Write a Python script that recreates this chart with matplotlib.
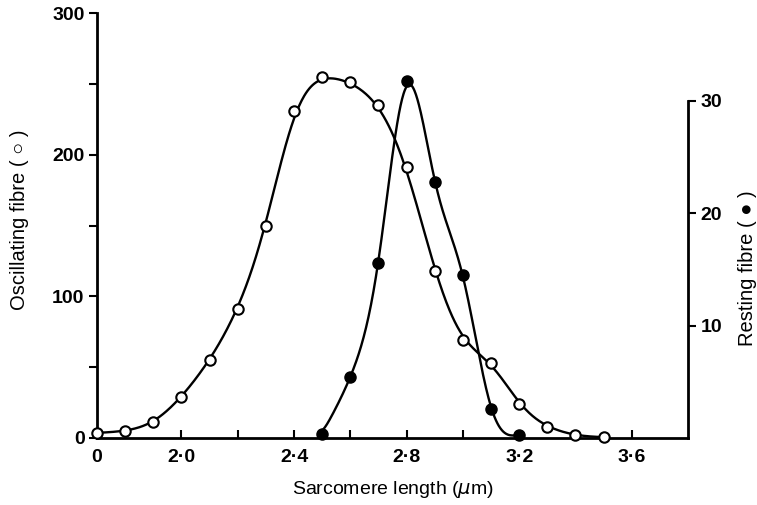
import numpy as np
import matplotlib
matplotlib.use("Agg")
import matplotlib.pyplot as plt

plt.rcParams['font.family'] = ['Liberation Sans', 'DejaVu Sans']

# sarcomere length (um) and counts
length_osc = [1.7, 1.8, 1.9, 2.0, 2.1, 2.2, 2.3, 2.4, 2.5, 2.6,
              2.7, 2.8, 2.9, 3.0, 3.1, 3.2, 3.3, 3.4, 3.5]
oscillating = [3.5, 5, 11, 29, 55, 91, 150, 231, 255, 251,
               235, 191, 118, 69, 53, 24, 8, 2, 0.5]

length_rest = [2.5, 2.6, 2.7, 2.8, 2.9, 3.0, 3.1, 3.2]
resting = [0.4, 5.4, 15.6, 31.7, 22.8, 14.5, 2.6, 0.3]

xtick_pos = [1.7, 2.0, 2.4, 2.8, 3.2, 3.6]
xtick_lab = ["0", "2·0", "2·4", "2·8", "3·2", "3·6"]


def spline(x, y, xs):
    # natural cubic spline, only used to draw the smooth line
    x = np.asarray(x, float)
    y = np.asarray(y, float)
    n = len(x)
    h = np.diff(x)
    A = np.zeros((n, n))
    b = np.zeros(n)
    A[0, 0] = 1
    A[-1, -1] = 1
    for i in range(1, n - 1):
        A[i, i - 1] = h[i - 1]
        A[i, i] = 2 * (h[i - 1] + h[i])
        A[i, i + 1] = h[i]
        b[i] = 3 * ((y[i + 1] - y[i]) / h[i] - (y[i] - y[i - 1]) / h[i - 1])
    c = np.linalg.solve(A, b)
    bb = (y[1:] - y[:-1]) / h - h * (2 * c[:-1] + c[1:]) / 3
    d = (c[1:] - c[:-1]) / (3 * h)
    i = np.clip(np.searchsorted(x, xs) - 1, 0, n - 2)
    dx = xs - x[i]
    return y[i] + bb[i] * dx + c[i] * dx**2 + d[i] * dx**3


def smooth(xs, ys, sigma):
    step = xs[1] - xs[0]
    s = sigma / step
    k = np.arange(-int(4 * s), int(4 * s) + 1)
    w = np.exp(-0.5 * (k / s) ** 2)
    w /= w.sum()
    pad = len(k) // 2
    yp = np.concatenate([np.full(pad, ys[0]), ys, np.full(pad, ys[-1])])
    return np.convolve(yp, w, mode='valid')


fig = plt.figure(figsize=(7.57, 5.05), dpi=100)
ax = fig.add_axes([97 / 757, 67 / 505, 591 / 757, 425 / 505])
ax2 = ax.twinx()

xs = np.linspace(length_osc[0], length_osc[-1], 600)
ys = smooth(xs, spline(length_osc, oscillating, xs), 0.04)
ax.plot(xs, np.clip(ys, 0, None), color='black', lw=1.7, zorder=2)
ax.plot(length_osc, oscillating, 'o', ms=7.5, mfc='white', mec='black', mew=1.5,
        clip_on=False, zorder=3)

xs2 = np.linspace(length_rest[0], length_rest[-1], 400)
ys2 = smooth(xs2, spline(length_rest, resting, xs2), 0.015)
ax2.plot(xs2, np.clip(ys2, 0, None), color='black', lw=1.7, zorder=2)
ax2.plot(length_rest, resting, 'o', ms=8, mfc='black', mec='black',
         clip_on=False, zorder=3)

ax.set_xlim(1.7, 3.8)
ax.set_ylim(0, 300)
ax2.set_ylim(0, 425 / 11.25)

ax.set_xticks(xtick_pos)
ax.set_xticklabels(xtick_lab)
ax.set_xticks([2.2, 2.6, 3.0, 3.4], minor=True)
ax.set_yticks([0, 100, 200, 300])
ax.set_yticks([50, 150, 250], minor=True)
ax2.set_yticks([10, 20, 30])

for a in (ax, ax2):
    a.spines['top'].set_visible(False)
    for s in a.spines.values():
        s.set_linewidth(2)
ax2.spines['left'].set_visible(False)
ax2.spines['bottom'].set_visible(False)
ax.spines['right'].set_visible(False)
ax2.spines['right'].set_bounds(0, 30)

ax.tick_params(axis='x', which='both', direction='in', length=6, width=1.5,
               labelsize=14, pad=8)
ax.tick_params(axis='y', which='both', direction='out', length=6, width=1.5,
               labelsize=14, pad=3)
ax2.tick_params(axis='y', direction='out', length=6, width=1.5, labelsize=14, pad=3)
for lab in ax.get_xticklabels() + ax.get_yticklabels() + ax2.get_yticklabels():
    lab.set_fontweight('bold')

ax.set_xlabel('Sarcomere length ($\\mu$m)', fontsize=14)
ax.xaxis.set_label_coords(0.5, -0.097)
ax.set_ylabel('Oscillating fibre ( ○ )', fontsize=14.5)
ax.yaxis.set_label_coords(-0.115, 0.513)
ax2.set_ylabel('Resting fibre ( ● )', fontsize=14.5)
ax2.yaxis.set_label_coords(1.084, 0.40)

fig.savefig('out.png', dpi=100)
